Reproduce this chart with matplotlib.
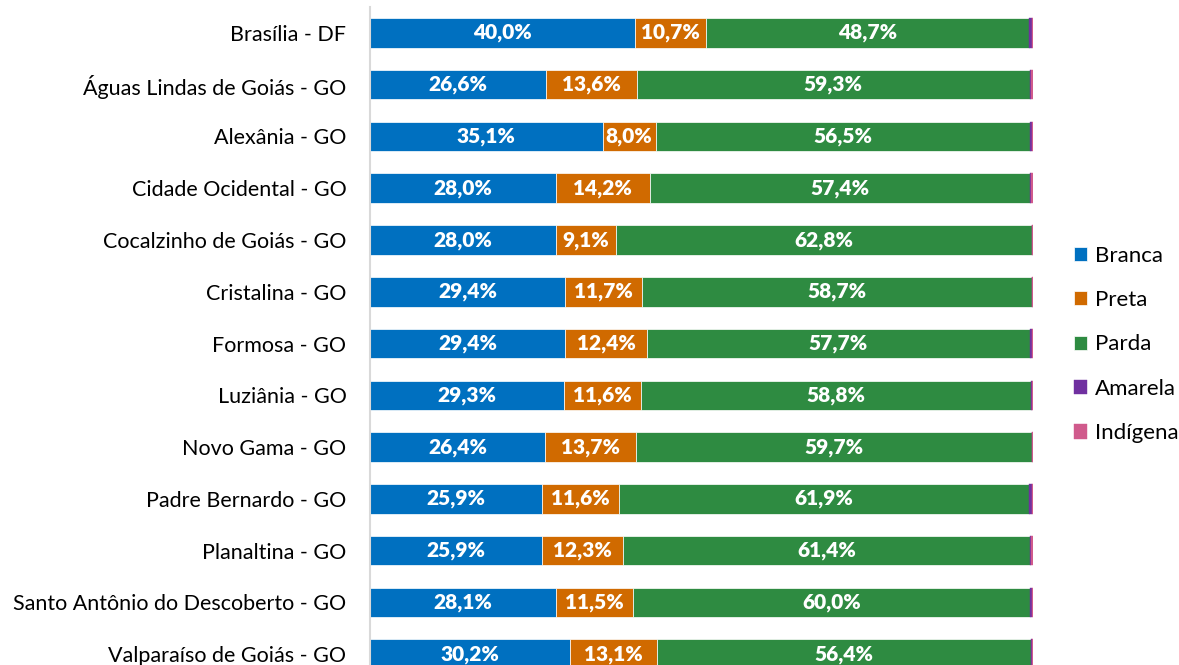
import numpy as np
import matplotlib.pyplot as plt

plt.rcParams['font.family'] = ['Lato', 'DejaVu Sans']

# Municípios (de cima para baixo)
municipios = ['Brasília - DF', 'Águas Lindas de Goiás - GO', 'Alexânia - GO',
              'Cidade Ocidental - GO', 'Cocalzinho de Goiás - GO', 'Cristalina - GO',
              'Formosa - GO', 'Luziânia - GO', 'Novo Gama - GO', 'Padre Bernardo - GO',
              'Planaltina - GO', 'Santo Antônio do Descoberto - GO', 'Valparaíso de Goiás - GO']

branca   = [40.0, 26.6, 35.1, 28.0, 28.0, 29.4, 29.4, 29.3, 26.4, 25.9, 25.9, 28.1, 30.2]
preta    = [10.7, 13.6, 8.0, 14.2, 9.1, 11.7, 12.4, 11.6, 13.7, 11.6, 12.3, 11.5, 13.1]
parda    = [48.7, 59.3, 56.5, 57.4, 62.8, 58.7, 57.7, 58.8, 59.7, 61.9, 61.4, 60.0, 56.4]
amarela  = [0.4, 0.2, 0.2, 0.1, 0.0, 0.1, 0.3, 0.1, 0.1, 0.4, 0.1, 0.2, 0.2]
indigena = [0.2, 0.3, 0.2, 0.3, 0.1, 0.1, 0.2, 0.2, 0.1, 0.2, 0.3, 0.2, 0.1]

series = ['Branca', 'Preta', 'Parda', 'Amarela', 'Indígena']
cores = ['#0070C0', '#D06A00', '#2E8B41', '#7030A0', '#D05A8C']
valores = [branca, preta, parda, amarela, indigena]

fig = plt.figure(figsize=(11.79, 6.65), dpi=100)
ax = fig.add_axes([370/1179, -0.0224, (1033-370)/1179, 1.0117])

y = np.arange(len(municipios))
left = np.zeros(len(municipios))
for nome, cor, vals in zip(series, cores, valores):
    vals = np.array(vals)
    principal = nome in ('Branca', 'Preta', 'Parda')
    bars = ax.barh(y, vals, left=left, height=0.57, color=cor, label=nome,
                   edgecolor='white' if principal else cor,
                   linewidth=0.5 if principal else 0.3)
    if principal:
        for b, v in zip(bars, vals):
            ax.text(b.get_x() + b.get_width()/2, b.get_y() + b.get_height()/2,
                    f'{v:.1f}%'.replace('.', ','), ha='center', va='center',
                    color='white', fontsize=15, fontweight='heavy')
    left += vals

ax.set_xlim(0, 100)
ax.set_ylim(len(municipios) - 0.5, -0.5)
ax.set_yticks(y)
ax.set_yticklabels(municipios, fontsize=15.5)
ax.tick_params(axis='y', length=0, pad=17)
ax.set_xticks([])
for s in ['top', 'right', 'bottom']:
    ax.spines[s].set_visible(False)
ax.spines['left'].set_color('#D9D9D9')
ax.spines['left'].set_linewidth(1.5)

leg = fig.legend(loc='center left', bbox_to_anchor=(1074/1179, 0.482), frameon=False,
                 fontsize=16, handlelength=0.6, handleheight=0.6, handletextpad=0.35,
                 labelspacing=1.1, borderaxespad=0, borderpad=0)

fig.savefig('out.png', dpi=100)
